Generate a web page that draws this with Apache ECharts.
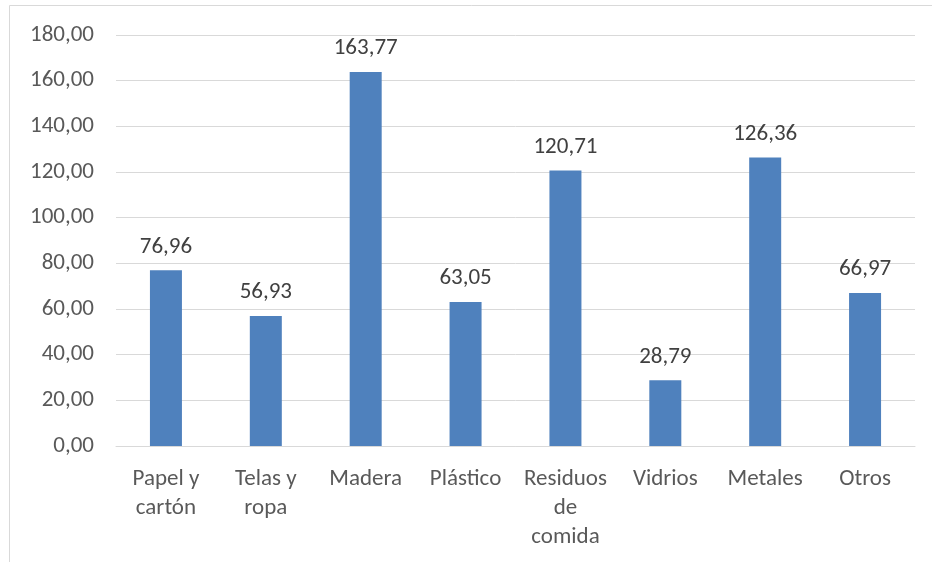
<!DOCTYPE html>
<html><head><meta charset="utf-8">
<script src="https://cdn.jsdelivr.net/npm/echarts@6/dist/echarts.min.js"></script>
<style>html,body{margin:0;padding:0;background:#fff}#c{width:932px;height:562px}</style>
</head><body><div id="c"></div>
<script>
const categories = ['Papel y\ncartón', 'Telas y\nropa', 'Madera', 'Plástico', 'Residuos\nde\ncomida', 'Vidrios', 'Metales', 'Otros'];
const values = [76.96, 56.93, 163.77, 63.05, 120.71, 28.79, 126.36, 66.97];
const yMin = 0, yMax = 180, yStep = 20;
const fmt = v => v.toFixed(2).replace('.', ',');
const FONT = 'Carlito, "Open Sans", "Liberation Sans", sans-serif';
const chart = echarts.init(document.getElementById('c'), null, {renderer: 'canvas'});
chart.setOption({
  animation: false,
  backgroundColor: '#fff',
  graphic: [{type: 'rect', shape: {x: 9.5, y: 5.5, width: 1000, height: 1000}, style: {fill: 'none', stroke: '#d9d9d9', lineWidth: 1}, z: -1}],
  grid: {left: 116, right: 17, top: 35, bottom: 116, containLabel: false},
  xAxis: {
    type: 'category', data: categories,
    axisLine: {lineStyle: {color: '#d9d9d9', width: 1}},
    axisTick: {show: false},
    axisLabel: {color: '#595959', fontSize: 23, fontFamily: FONT, lineHeight: 29, margin: 19, interval: 0}
  },
  yAxis: {
    type: 'value', min: yMin, max: yMax, interval: yStep,
    axisLine: {show: false}, axisTick: {show: false},
    axisLabel: {color: '#595959', fontSize: 23, fontFamily: FONT, margin: 22, formatter: v => fmt(v)},
    splitLine: {lineStyle: {color: '#d9d9d9', width: 1}}
  },
  series: [{
    type: 'bar', data: values, barWidth: 32,
    itemStyle: {color: '#4f81bd'},
    label: {show: true, position: 'top', distance: 12, color: '#404040', fontSize: 23, fontFamily: FONT, formatter: p => fmt(p.value)}
  }]
});
</script></body></html>
